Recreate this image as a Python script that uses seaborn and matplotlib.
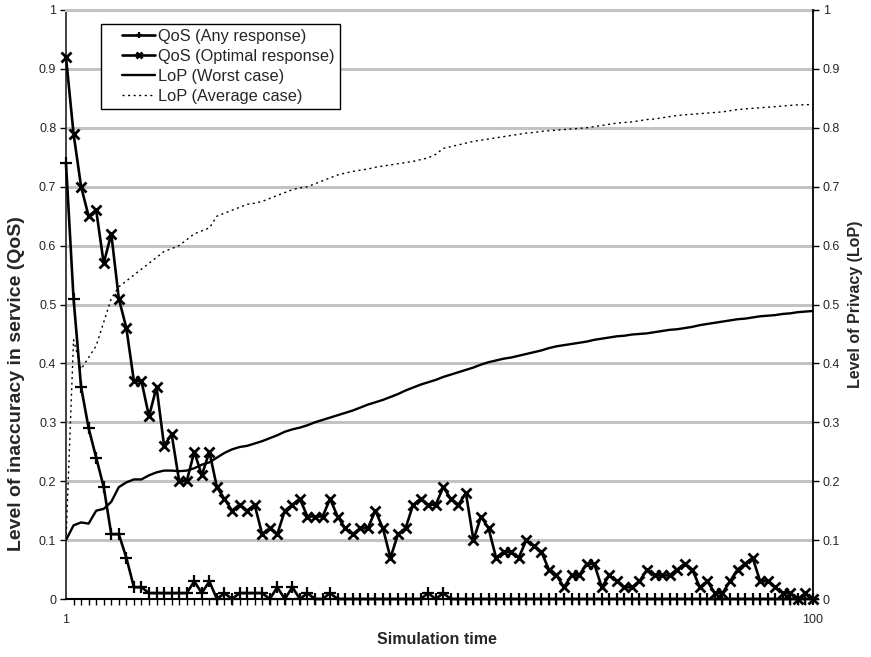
import matplotlib
matplotlib.use("Agg")
import matplotlib.pyplot as plt
from matplotlib.lines import Line2D
from matplotlib.legend_handler import HandlerLine2D
import numpy as np
import pandas as pd
import seaborn as sns

# Simulation steps
time = list(range(1, 101))

# Inaccuracy in service, any response
qos_any = [0.74, 0.51, 0.36, 0.29, 0.24, 0.19, 0.11, 0.11, 0.07, 0.02,
           0.02, 0.01, 0.01, 0.01, 0.01, 0.01, 0.01, 0.03, 0.01, 0.03,
           0.00, 0.01, 0.00, 0.01, 0.01, 0.01, 0.01, 0.00, 0.02, 0.00,
           0.02, 0.00, 0.01, 0.00, 0.00, 0.01, 0.00, 0.00, 0.00, 0.00,
           0.00, 0.00, 0.00, 0.00, 0.00, 0.00, 0.00, 0.00, 0.01, 0.00,
           0.01, 0.00, 0.00, 0.00, 0.00, 0.00, 0.00, 0.00, 0.00, 0.00,
           0.00, 0.00, 0.00, 0.00, 0.00, 0.00, 0.00, 0.00, 0.00, 0.00,
           0.00, 0.00, 0.00, 0.00, 0.00, 0.00, 0.00, 0.00, 0.00, 0.00,
           0.00, 0.00, 0.00, 0.00, 0.00, 0.00, 0.00, 0.00, 0.00, 0.00,
           0.00, 0.00, 0.00, 0.00, 0.00, 0.00, 0.00, 0.00, 0.00, 0.00]

# Inaccuracy in service, optimal response
qos_optimal = [0.92, 0.79, 0.70, 0.65, 0.66, 0.57, 0.62, 0.51, 0.46, 0.37,
               0.37, 0.31, 0.36, 0.26, 0.28, 0.20, 0.20, 0.25, 0.21, 0.25,
               0.19, 0.17, 0.15, 0.16, 0.15, 0.16, 0.11, 0.12, 0.11, 0.15,
               0.16, 0.17, 0.14, 0.14, 0.14, 0.17, 0.14, 0.12, 0.11, 0.12,
               0.12, 0.15, 0.12, 0.07, 0.11, 0.12, 0.16, 0.17, 0.16, 0.16,
               0.19, 0.17, 0.16, 0.18, 0.10, 0.14, 0.12, 0.07, 0.08, 0.08,
               0.07, 0.10, 0.09, 0.08, 0.05, 0.04, 0.02, 0.04, 0.04, 0.06,
               0.06, 0.02, 0.04, 0.03, 0.02, 0.02, 0.03, 0.05, 0.04, 0.04,
               0.04, 0.05, 0.06, 0.05, 0.02, 0.03, 0.01, 0.01, 0.03, 0.05,
               0.06, 0.07, 0.03, 0.03, 0.02, 0.01, 0.01, 0.00, 0.01, 0.00]

# Level of privacy, worst case
lop_worst = [0.100, 0.125, 0.130, 0.128, 0.150, 0.153, 0.165, 0.190, 0.198, 0.203,
             0.203, 0.210, 0.215, 0.218, 0.218, 0.217, 0.218, 0.222, 0.228, 0.232,
             0.240, 0.248, 0.254, 0.258, 0.260, 0.264, 0.268, 0.273, 0.278, 0.284,
             0.288, 0.291, 0.295, 0.300, 0.304, 0.308, 0.312, 0.316, 0.320, 0.325,
             0.330, 0.334, 0.338, 0.343, 0.348, 0.354, 0.359, 0.364, 0.368, 0.372,
             0.377, 0.381, 0.385, 0.389, 0.393, 0.398, 0.402, 0.405, 0.408, 0.410,
             0.413, 0.416, 0.419, 0.422, 0.426, 0.429, 0.431, 0.433, 0.435, 0.437,
             0.440, 0.442, 0.444, 0.446, 0.447, 0.449, 0.450, 0.451, 0.453, 0.455,
             0.457, 0.458, 0.460, 0.462, 0.465, 0.467, 0.469, 0.471, 0.473, 0.475,
             0.476, 0.478, 0.480, 0.481, 0.482, 0.484, 0.485, 0.487, 0.488, 0.489]

# Level of privacy, average case
lop_average = [0.100, 0.440, 0.390, 0.410, 0.430, 0.470, 0.510, 0.530, 0.540, 0.550,
               0.560, 0.570, 0.580, 0.590, 0.595, 0.600, 0.610, 0.620, 0.625, 0.630,
               0.650, 0.655, 0.660, 0.665, 0.670, 0.672, 0.675, 0.680, 0.685, 0.690,
               0.695, 0.698, 0.700, 0.705, 0.710, 0.715, 0.720, 0.723, 0.726, 0.728,
               0.730, 0.733, 0.735, 0.737, 0.739, 0.741, 0.743, 0.746, 0.749, 0.755,
               0.765, 0.768, 0.771, 0.774, 0.777, 0.779, 0.781, 0.783, 0.785, 0.787,
               0.789, 0.791, 0.792, 0.794, 0.795, 0.796, 0.797, 0.798, 0.799, 0.800,
               0.802, 0.804, 0.806, 0.808, 0.809, 0.810, 0.812, 0.814, 0.815, 0.817,
               0.819, 0.821, 0.822, 0.823, 0.824, 0.825, 0.826, 0.827, 0.829, 0.831,
               0.832, 0.833, 0.834, 0.835, 0.836, 0.837, 0.838, 0.839, 0.839, 0.840]

y_ticks = [0, 0.1, 0.2, 0.3, 0.4, 0.5, 0.6, 0.7, 0.8, 0.9, 1]
y_tick_labels = ["0", "0.1", "0.2", "0.3", "0.4", "0.5", "0.6", "0.7", "0.8", "0.9", "1"]
x_tick_labels = ["1", "100"]

df = pd.DataFrame({"time": time, "qos_any": qos_any, "qos_optimal": qos_optimal,
                   "lop_worst": lop_worst, "lop_average": lop_average})

sns.set_theme(style="white")
plt.rcParams["font.family"] = ["Liberation Sans", "DejaVu Sans"]

W, H = 871, 657
fig = plt.figure(figsize=(W / 100, H / 100), dpi=100)
left, right, top, bottom = 66, 813, 10, 599
ax = fig.add_axes([left / W, 1 - bottom / H, (right - left) / W, (bottom - top) / H])
ax2 = ax.twinx()

grid_color = "#c3c3c3"

# QoS series on the left axis
sns.lineplot(data=df, x="time", y="qos_any", ax=ax, color="black", lw=1.9,
             marker="+", markersize=8, markeredgewidth=1.6, markeredgecolor="black",
             label="QoS (Any response)", clip_on=False, zorder=4)
sns.lineplot(data=df, x="time", y="qos_optimal", ax=ax, color="black", lw=1.9,
             marker="x", markersize=7, markeredgewidth=2.0, markeredgecolor="black",
             label="QoS (Optimal response)", clip_on=False, zorder=5)

# LoP series on the right axis
sns.lineplot(data=df, x="time", y="lop_worst", ax=ax2, color="black", lw=1.7,
             label="LoP (Worst case)", zorder=3)
sns.lineplot(data=df, x="time", y="lop_average", ax=ax2, color="black", lw=1.0,
             linestyle=(0, (1.5, 2.5)), label="LoP (Average case)", zorder=3)

for a in (ax, ax2):
    a.set_xlim(1, 100)
    a.set_ylim(0, 1)
    a.set_yticks(y_ticks)
    a.set_yticklabels(y_tick_labels)
    a.tick_params(axis="y", which="major", direction="out", length=4, width=1,
                  color="black", labelsize=9, pad=3)
    a.set_xlabel("")
    a.set_ylabel("")
    lg = a.get_legend()
    if lg is not None:
        lg.remove()

# horizontal gridlines
ax.yaxis.grid(True, color=grid_color, lw=2.2)
ax.xaxis.grid(False)
ax.set_axisbelow(True)

# x axis: every step ticked, only the ends labelled
ax.set_xticks([1, 100])
ax.set_xticklabels(x_tick_labels)
ax.set_xticks(time, minor=True)
ax.tick_params(axis="x", which="major", direction="out", length=4, width=1,
               color="black", labelsize=9, pad=7)
ax.tick_params(axis="x", which="minor", direction="out", length=4, width=1,
               color="black", bottom=True)
ax2.tick_params(axis="x", which="both", bottom=False, labelbottom=False)

# spines
ax.spines["top"].set_color(grid_color)
ax.spines["top"].set_linewidth(2.2)
ax.spines["left"].set_color("#333333")
ax.spines["left"].set_linewidth(1.3)
ax.spines["bottom"].set_color("black")
ax.spines["bottom"].set_linewidth(1.5)
ax.spines["right"].set_visible(False)
for s in ("top", "left", "bottom"):
    ax2.spines[s].set_visible(False)
ax2.spines["right"].set_color("black")
ax2.spines["right"].set_linewidth(1.3)

# axis titles
fig.text(437 / W, 1 - 640 / H, "Simulation time", fontsize=11.5,
         fontweight="bold", ha="center", va="center")
fig.text(17 / W, 1 - 384 / H, "Level of inaccuracy in service (QoS)", fontsize=14,
         fontweight="bold", ha="center", va="center", rotation=90)
fig.text(855 / W, 1 - 304 / H, "Level of Privacy (LoP)", fontsize=11.5,
         fontweight="bold", ha="center", va="center", rotation=90)

h1, l1 = ax.get_legend_handles_labels()
h2, l2 = ax2.get_legend_handles_labels()
leg = ax2.legend(h1 + h2, l1 + l2, loc="upper left",
                 bbox_to_anchor=((101 - left) / (right - left), (bottom - 24) / (bottom - top)),
                 frameon=True, fancybox=False, framealpha=1, edgecolor="black",
                 fontsize=11.8, handlelength=3.0, handletextpad=0.2,
                 labelspacing=0.3, borderpad=0.3, borderaxespad=0,
                 handler_map={Line2D: HandlerLine2D(xpad=1.0)})
leg.get_frame().set_linewidth(1.0)
for h in leg.legend_handles:
    h.set_markersize(5)

fig.savefig("out.png", dpi=100, facecolor="white")
